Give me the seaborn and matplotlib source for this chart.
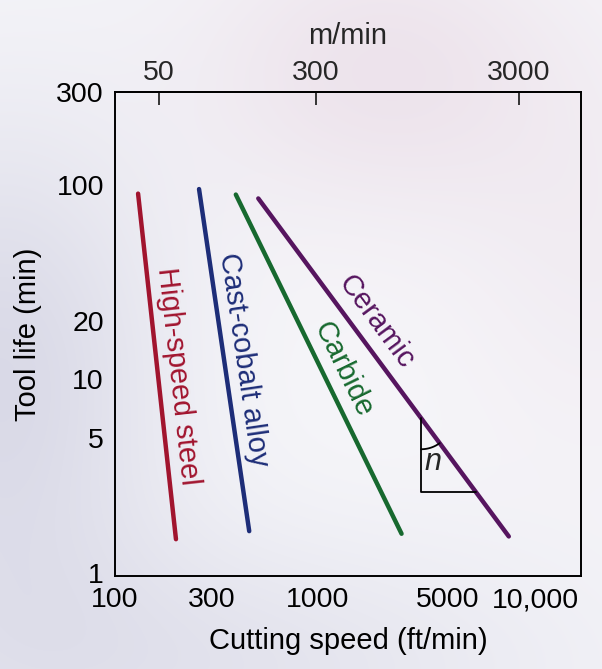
import numpy as np
import pandas as pd
import matplotlib
matplotlib.use("Agg")
import matplotlib.pyplot as plt
import matplotlib.transforms as mtransforms
import seaborn as sns

# ---- data ----
materials = ["High-speed steel", "Cast-cobalt alloy", "Carbide", "Ceramic"]
speed_start = [130, 260, 395, 510]      # ft/min
speed_end = [200, 460, 2600, 8800]      # ft/min
life_start = [90, 95, 89, 85]           # min
life_end = [1.5, 1.65, 1.6, 1.55]       # min
colors = ["#a1142e", "#1d2d78", "#17692f", "#56155f"]

x_ticks = [100, 300, 1000, 5000, 10000]
x_ticklabels = ["100", "300", "1000", "5000", "10,000"]
y_ticks = [1, 5, 10, 20, 100, 300]
y_ticklabels = ["1", "5", "10", "20", "100", "300"]
top_ticks = [50, 300, 3000]
top_ticklabels = ["50", "300", "3000"]
FT_PER_M = 3.28

triangle_x = [3250, 6070]   # ft/min, vertical leg and right end

df = pd.DataFrame({
    "material": np.repeat(materials, 2),
    "speed": np.ravel(np.column_stack([speed_start, speed_end])),
    "life": np.ravel(np.column_stack([life_start, life_end])),
})

sns.set_theme(style="white")
plt.rcParams["font.family"] = ["Liberation Sans", "DejaVu Sans"]

W, H = 602, 669
fig = plt.figure(figsize=(W / 100, H / 100), dpi=100)

# soft background gradient
yy, xx = np.mgrid[0:H, 0:W]
white = np.array([0.965, 0.965, 0.978])
lav = np.array([0.835, 0.835, 0.895])
pink = np.array([0.92, 0.87, 0.91])
a = 0.85 * np.exp(-(xx / 170.0) ** 2) * np.exp(-((yy - 380) / 260.0) ** 2)
a += 0.55 * np.exp(-((yy - H) / 140.0) ** 2) * np.exp(-((xx - 200) / 380.0) ** 2)
a = np.clip(a, 0, 1)
p = 0.75 * np.exp(-((xx - 380) / 190.0) ** 2 - ((yy - 70) / 150.0) ** 2)
p += 0.35 * np.exp(-((xx - 600) / 150.0) ** 2 - ((yy - 260) / 200.0) ** 2)
p = np.clip(p, 0, 1)
img = white + a[..., None] * (lav - white) + p[..., None] * (pink - white)
bg = fig.add_axes([0, 0, 1, 1], zorder=-10)
bg.imshow(np.clip(img, 0, 1), aspect="auto", extent=[0, 1, 0, 1])
bg.axis("off")

ax = fig.add_axes([115 / W, 1 - 576 / H, (581 - 115) / W, (576 - 92) / H])
ax.patch.set_alpha(0)

sns.lineplot(data=df, x="speed", y="life", hue="material", hue_order=materials,
             palette=dict(zip(materials, colors)), linewidth=3.2, legend=False,
             ax=ax, sort=False, estimator=None)

ax.set_xscale("log")
ax.set_yscale("log")
ax.set_xlim(100, 20000)
ax.set_ylim(0.97, 300)
ax.set_xticks(x_ticks)
ax.set_xticklabels(x_ticklabels)
ax.set_yticks(y_ticks)
ax.set_yticklabels(y_ticklabels)
ax.minorticks_off()

tick_fs = 20.5
ax.tick_params(axis="both", which="major", direction="in", length=9, width=1.3,
               labelsize=tick_fs, color="black", labelcolor="black", pad=8)
for s in ax.spines.values():
    s.set_color("black")
    s.set_linewidth(1.4)

# nudge the two crowded bottom labels apart, as in the reference
shifts = {"5000": -11, "10,000": 15}
for lab in ax.get_xticklabels():
    dx = shifts.get(lab.get_text(), 0)
    if dx:
        lab.set_transform(lab.get_transform() +
                          mtransforms.ScaledTranslation(dx / 100, 0, fig.dpi_scale_trans))

ax.set_xlabel("Cutting speed (ft/min)", fontsize=21, labelpad=10, color="black")
ax.set_ylabel("Tool life (min)", fontsize=21, labelpad=10, color="black")

sec = ax.secondary_xaxis("top", functions=(lambda x: x / FT_PER_M, lambda m: m * FT_PER_M))
sec.set_xticks(top_ticks)
sec.set_xticklabels(top_ticklabels)
sec.tick_params(axis="x", which="major", direction="in", length=9, width=1.3,
                labelsize=tick_fs, pad=4)
sec.tick_params(axis="x", which="minor", length=0)
sec.set_xlabel("m/min", fontsize=21, labelpad=12)

# rotated labels along the lines
label_pos = [(205, 10.4), (430, 12.6), (1340, 11.2), (1960, 19.6)]
for name, c, xs, xe, ys, ye, (lx, ly) in zip(materials, colors, speed_start, speed_end,
                                              life_start, life_end, label_pos):
    p0, p1 = ax.transData.transform([[xs, ys], [xe, ye]])
    ang = np.degrees(np.arctan2(p1[1] - p0[1], p1[0] - p0[0]))
    ax.text(lx, ly, name, color=c, fontsize=21, rotation=ang,
            rotation_mode="anchor", ha="center", va="center")

# slope triangle on the ceramic line
i = materials.index("Ceramic")
lx0, lx1 = np.log10(speed_start[i]), np.log10(speed_end[i])
ly0, ly1 = np.log10(life_start[i]), np.log10(life_end[i])
def ceramic_life(x):
    return 10 ** (ly0 + (ly1 - ly0) * (np.log10(x) - lx0) / (lx1 - lx0))
tx0, tx1 = triangle_x
ytop = ceramic_life(tx0)
ybot = ceramic_life(tx1)
ax.plot([tx0, tx0, tx1], [ytop, ybot, ybot], color="black", lw=1.3)

# angle arc at the top vertex
v = ax.transData.transform([tx0, ytop])
q = ax.transData.transform([tx1, ybot])
ang_line = np.arctan2(q[1] - v[1], q[0] - v[0])
th = np.linspace(-np.pi / 2, ang_line, 30)
r = 31
arc_pts = np.column_stack([v[0] + r * np.cos(th), v[1] + r * np.sin(th)])
arc_data = ax.transData.inverted().transform(arc_pts)
ax.plot(arc_data[:, 0], arc_data[:, 1], color="black", lw=1.3)
ax.text(3700, 3.75, "n", fontsize=22, style="italic", ha="center", va="center")

fig.savefig("out.png", dpi=100)
